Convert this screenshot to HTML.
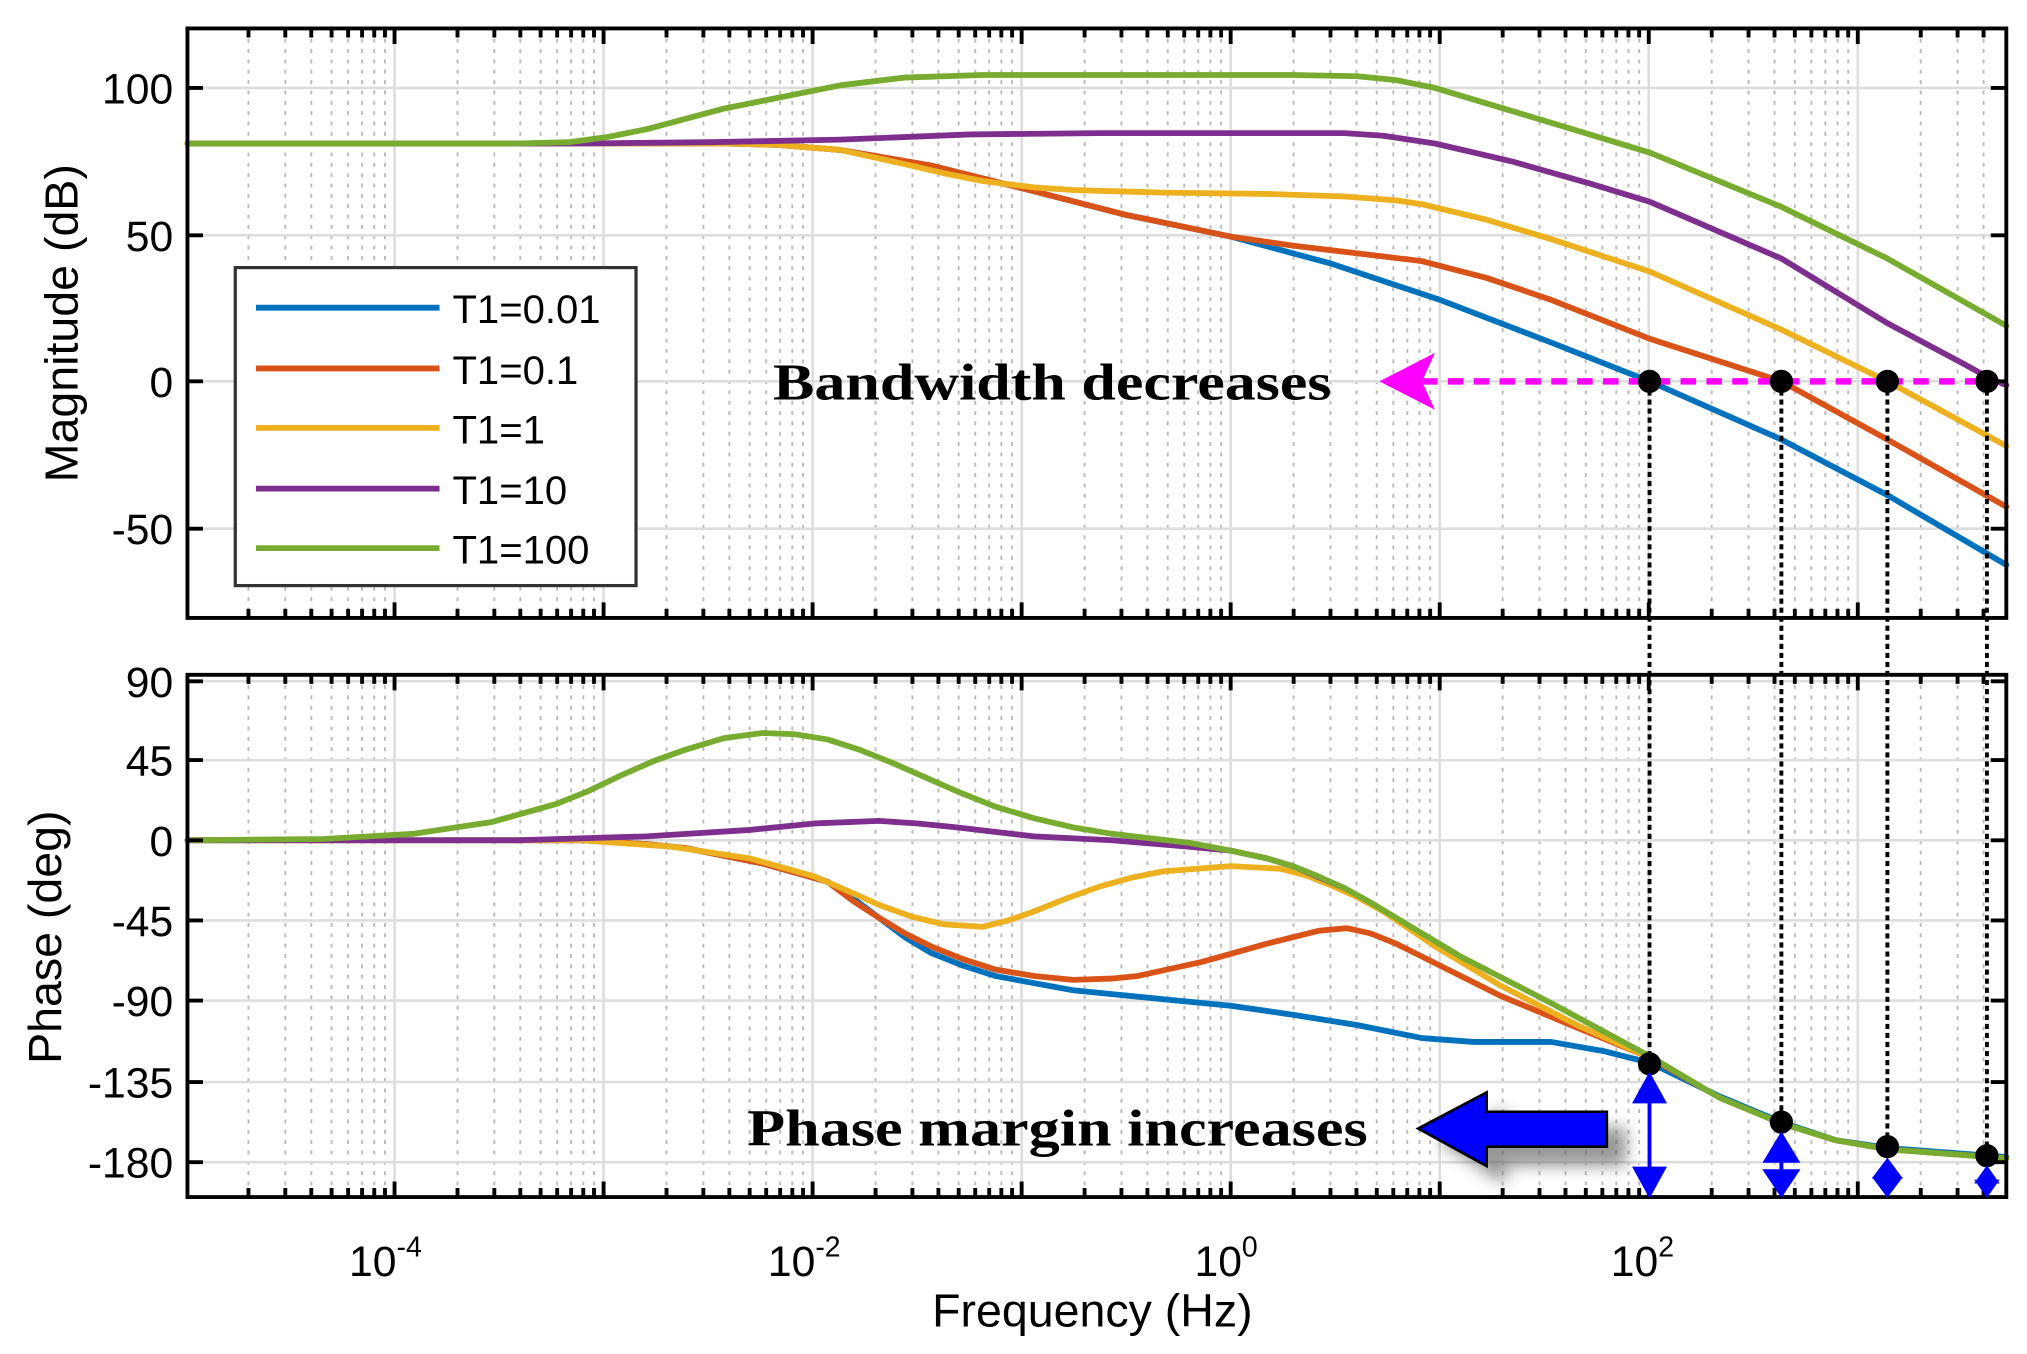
<!DOCTYPE html>
<html><head><meta charset="utf-8"><style>html,body{margin:0;padding:0;background:#fff}svg{display:block}</style></head>
<body>
<svg width="2027" height="1354" viewBox="0 0 1568 1047.4" preserveAspectRatio="none" xmlns="http://www.w3.org/2000/svg" font-family="Liberation Sans, sans-serif">
<defs>
<filter id="sh" x="-30%" y="-50%" width="160%" height="200%"><feGaussianBlur stdDeviation="6"/></filter>
<path id="minT" d="M192.2 22V478M220.7 22V478M240.8 22V478M256.5 22V478M269.3 22V478M280.1 22V478M289.5 22V478M297.8 22V478M353.9 22V478M382.4 22V478M402.5 22V478M418.2 22V478M431 22V478M441.8 22V478M451.2 22V478M459.5 22V478M515.6 22V478M544.1 22V478M564.2 22V478M579.9 22V478M592.7 22V478M603.5 22V478M612.9 22V478M621.2 22V478M677.3 22V478M705.8 22V478M725.9 22V478M741.6 22V478M754.4 22V478M765.2 22V478M774.6 22V478M782.9 22V478M839 22V478M867.5 22V478M887.6 22V478M903.3 22V478M916.1 22V478M926.9 22V478M936.3 22V478M944.6 22V478M1000.7 22V478M1029.2 22V478M1049.3 22V478M1065 22V478M1077.8 22V478M1088.6 22V478M1098 22V478M1106.3 22V478M1162.4 22V478M1190.9 22V478M1211 22V478M1226.7 22V478M1239.5 22V478M1250.3 22V478M1259.7 22V478M1268 22V478M1324.1 22V478M1352.6 22V478M1372.7 22V478M1388.4 22V478M1401.2 22V478M1412 22V478M1421.4 22V478M1429.7 22V478M1485.8 22V478M1514.3 22V478M1534.4 22V478"/>
<path id="minB" d="M192.2 522V926M220.7 522V926M240.8 522V926M256.5 522V926M269.3 522V926M280.1 522V926M289.5 522V926M297.8 522V926M353.9 522V926M382.4 522V926M402.5 522V926M418.2 522V926M431 522V926M441.8 522V926M451.2 522V926M459.5 522V926M515.6 522V926M544.1 522V926M564.2 522V926M579.9 522V926M592.7 522V926M603.5 522V926M612.9 522V926M621.2 522V926M677.3 522V926M705.8 522V926M725.9 522V926M741.6 522V926M754.4 522V926M765.2 522V926M774.6 522V926M782.9 522V926M839 522V926M867.5 522V926M887.6 522V926M903.3 522V926M916.1 522V926M926.9 522V926M936.3 522V926M944.6 522V926M1000.7 522V926M1029.2 522V926M1049.3 522V926M1065 522V926M1077.8 522V926M1088.6 522V926M1098 522V926M1106.3 522V926M1162.4 522V926M1190.9 522V926M1211 522V926M1226.7 522V926M1239.5 522V926M1250.3 522V926M1259.7 522V926M1268 522V926M1324.1 522V926M1352.6 522V926M1372.7 522V926M1388.4 522V926M1401.2 522V926M1412 522V926M1421.4 522V926M1429.7 522V926M1485.8 522V926M1514.3 522V926M1534.4 522V926"/>
<path id="majT" d="M305.2 22V478M466.9 22V478M628.6 22V478M790.3 22V478M952 22V478M1113.7 22V478M1275.4 22V478M1437.1 22V478"/>
<path id="majB" d="M305.2 522V926M466.9 522V926M628.6 522V926M790.3 522V926M952 522V926M1113.7 522V926M1275.4 522V926M1437.1 522V926"/>
<path id="hT" d="M145 68H1552M145 182H1552M145 295H1552M145 409H1552"/>
<path id="hB" d="M145 527H1552M145 588H1552M145 650H1552M145 712H1552M145 774H1552M145 837H1552M145 899H1552"/>
</defs>
<rect width="1568" height="1048" fill="#fff"/>
<!-- grid -->
<g fill="none">
<use href="#minT" stroke="#bbb" stroke-width="1.5" stroke-dasharray="3,5"/>
<use href="#minB" stroke="#bbb" stroke-width="1.5" stroke-dasharray="3,5"/>
<use href="#majT" stroke="#ddd" stroke-width="2"/>
<use href="#majB" stroke="#ddd" stroke-width="2"/>
<use href="#hT" stroke="#ddd" stroke-width="2"/>
<use href="#hB" stroke="#ddd" stroke-width="2"/>
</g>
<g fill="none" stroke-width="4.5" stroke-linejoin="round" stroke-linecap="round">
<polyline stroke="#0072BD" points="145,111 560,111 600,112 650,116 720,128 800,148 870,166 952,183 1030,204 1114,232 1200,265 1276,295 1378,340 1460,383 1552,437"/>
<polyline stroke="#D95319" points="145,111 560,111 600,112 650,116 720,128 800,148 870,166 952,183 1000,190 1050,196 1100,202 1150,215 1200,232 1276,262 1378,295 1460,340 1552,392"/>
<polyline stroke="#EDB120" points="145,111 560,111 600,112 650,116 700,127 730,134 760,140 800,145 830,147 900,149 980,150 1040,152 1080,155 1100,158 1150,170 1200,185 1276,210 1378,255 1460,295 1552,345"/>
<polyline stroke="#7E2F8E" points="145,111 450,111 550,110 650,108 750,104 850,103 1000,103 1040,103 1070,105 1110,111 1170,125 1230,142 1276,156 1378,200 1460,250 1520,282 1540,293 1552,298"/>
<polyline stroke="#77AC30" points="145,111 400,111 440,110 470,106 500,100 530,92 560,84 600,76 650,66 700,60 760,58 850,58 1000,58 1050,59 1080,62 1110,68 1150,80 1200,95 1276,118 1378,160 1460,200 1552,252"/>

<polyline stroke="#0072BD" points="145,650 450,650 500,653 530,656 590,668 640,682 660,695 680,710 700,725 720,737 745,747 770,755 830,766 900,773 952,778 1000,785 1050,793 1080,799 1100,803 1140,806 1200,806 1240,813 1276,822 1330,848 1378,868 1420,882 1460,888 1552,895"/>
<polyline stroke="#D95319" points="145,650 450,650 500,653 530,656 590,668 640,682 660,697 680,710 700,722 720,732 745,742 770,750 800,755 830,758 860,757 880,755 930,744 980,730 1020,720 1042,718 1060,722 1080,730 1110,745 1160,770 1220,795 1276,818 1330,849 1378,869 1420,882 1460,889 1552,896"/>
<polyline stroke="#EDB120" points="145,650 450,650 520,655 580,664 630,678 660,691 680,700 705,709 730,715 760,717 780,712 800,705 825,695 850,686 875,679 900,674 952,670 990,672 1010,677 1030,685 1050,694 1070,705 1110,732 1160,762 1220,793 1276,818"/>
<polyline stroke="#7E2F8E" points="145,650 400,650 500,647 580,642 630,637 680,635 710,637 740,640 800,647 860,650 920,655 952,658 980,664 1000,670 1040,687"/>
<polyline stroke="#77AC30" points="145,650 250,649 320,645 380,636 430,622 455,612 480,600 505,589 530,580 560,571 590,567 615,568 640,572 665,580 690,590 715,601 740,612 770,624 800,633 830,640 860,645 920,652 952,658 980,664 1000,670 1020,678 1040,687 1060,698 1080,710 1130,740 1200,776 1276,817 1330,849 1378,869 1420,882 1460,889 1552,896"/>
</g>
<!-- ticks -->
<g fill="none" stroke="#000" stroke-width="3">
<use href="#minT" stroke-dasharray="7 442 7 200"/>
<use href="#minB" stroke-dasharray="7 390 7 200"/>
<use href="#majT" stroke-dasharray="12 432 12 200"/>
<use href="#majB" stroke-dasharray="12 380 12 200"/>
<use href="#hT" stroke-dasharray="12 1383 12 200"/>
<use href="#hB" stroke-dasharray="12 1383 12 200"/>
</g>
<rect x="145" y="22" width="1407" height="456" fill="none" stroke="#000" stroke-width="3"/>
<rect x="145" y="522" width="1407" height="404" fill="none" stroke="#000" stroke-width="3"/>
<g font-size="33" text-anchor="end" fill="#000">
<text x="134" y="80">100</text><text x="134" y="194">50</text><text x="134" y="307">0</text><text x="134" y="421">-50</text>
<text x="134" y="539">90</text><text x="134" y="600">45</text><text x="134" y="662">0</text><text x="134" y="724">-45</text><text x="134" y="786">-90</text><text x="134" y="849">-135</text><text x="134" y="911">-180</text>
</g>
<g font-size="33" fill="#000">
<text x="270" y="987">10<tspan font-size="22" dy="-15">-4</tspan></text>
<text x="594" y="987">10<tspan font-size="22" dy="-15">-2</tspan></text>
<text x="924" y="987">10<tspan font-size="22" dy="-15">0</tspan></text>
<text x="1246" y="987">10<tspan font-size="22" dy="-15">2</tspan></text>
</g>
<text x="845" y="1026" font-size="36" text-anchor="middle">Frequency  (Hz)</text>
<text transform="translate(60,250) rotate(-90)" font-size="36" text-anchor="middle">Magnitude (dB)</text>
<text transform="translate(47,725) rotate(-90)" font-size="36" text-anchor="middle">Phase (deg)</text>
<rect x="182" y="207" width="310" height="246" fill="#fff" stroke="#333" stroke-width="2.5"/>
<g stroke-width="4.5">
<line x1="198" y1="238" x2="340" y2="238" stroke="#0072BD"/>
<line x1="198" y1="285" x2="340" y2="285" stroke="#D95319"/>
<line x1="198" y1="331" x2="340" y2="331" stroke="#EDB120"/>
<line x1="198" y1="378" x2="340" y2="378" stroke="#7E2F8E"/>
<line x1="198" y1="424" x2="340" y2="424" stroke="#77AC30"/>
</g>
<g font-size="31"><text x="350" y="250">T1=0.01</text><text x="350" y="297">T1=0.1</text><text x="350" y="343">T1=1</text><text x="350" y="390">T1=10</text><text x="350" y="436">T1=100</text></g>
<text x="598" y="309" font-family="Liberation Serif, serif" font-weight="bold" font-size="40" textLength="432" lengthAdjust="spacingAndGlyphs">Bandwidth decreases</text>
<line x1="1100" y1="295" x2="1537" y2="295" stroke="#FF00FF" stroke-width="5" stroke-dasharray="12,8"/>
<polygon points="1067,295 1110,273 1100,295 1110,317" fill="#FF00FF"/>
<g stroke="#000" stroke-width="3" stroke-dasharray="4,3">
<line x1="1276" y1="295" x2="1276" y2="823"/><line x1="1378" y1="295" x2="1378" y2="868"/><line x1="1460" y1="295" x2="1460" y2="887"/><line x1="1537" y1="295" x2="1537" y2="894"/>
</g>
<g fill="#000"><circle cx="1276" cy="295" r="9"/><circle cx="1378" cy="295" r="9"/><circle cx="1460" cy="295" r="9"/><circle cx="1537" cy="295" r="9"/>
<circle cx="1276" cy="823" r="9"/><circle cx="1378" cy="868" r="9"/><circle cx="1460" cy="887" r="9"/><circle cx="1537" cy="894" r="9"/></g>
<g stroke="#0000FF" stroke-width="3" fill="#0000FF">
<line x1="1276" y1="835" x2="1276" y2="922"/><polygon points="1276,832 1265,852 1287,852"/><polygon points="1276,924 1265,904 1287,904"/>
<line x1="1378" y1="880" x2="1378" y2="922"/><polygon points="1378,878 1366,898 1390,898"/><polygon points="1378,924 1366,906 1390,906"/>
<polygon points="1460,898 1451,910 1469,910"/><polygon points="1460,924 1451,912 1469,912"/>
<polygon points="1537,904 1530,914 1544,914"/><polygon points="1537,924 1530,914 1544,914"/>
</g>
<text x="578" y="886" font-family="Liberation Serif, serif" font-weight="bold" font-size="40" textLength="480" lengthAdjust="spacingAndGlyphs">Phase margin increases</text>
<polygon points="1112,883 1165,857 1165,872 1258,872 1258,902 1165,902 1165,917" fill="#555" opacity="0.6" filter="url(#sh)"/>
<polygon points="1097,873 1150,845 1150,860 1243,860 1243,887 1150,887 1150,902" fill="#0000FF" stroke="#000" stroke-width="2"/>
</svg>
</body></html>
